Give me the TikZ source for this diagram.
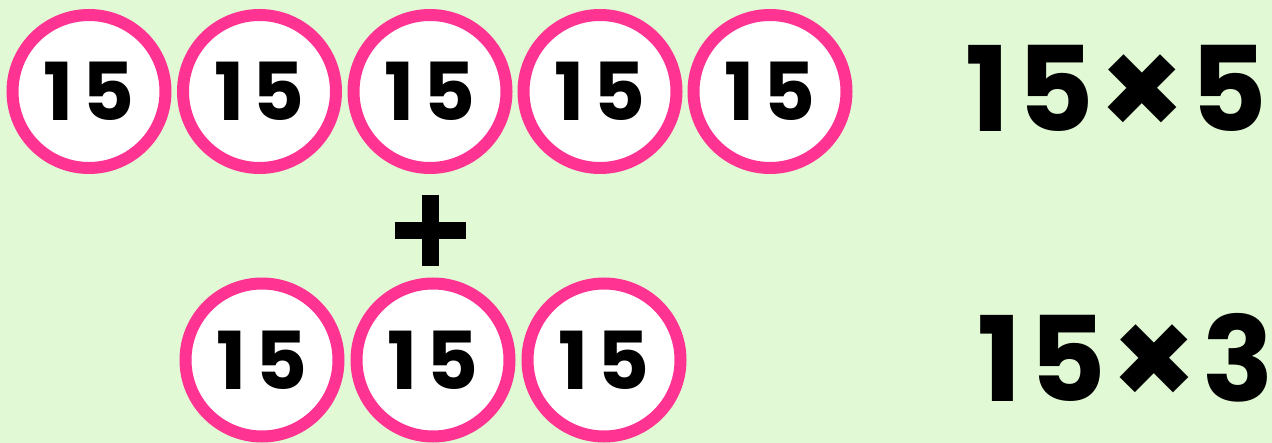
\documentclass[tikz,border=0pt]{standalone}
\usepackage{fontspec}
\setmainfont{Poppins}[BoldFont={* Bold}]
\definecolor{bg}{RGB}{225,250,213}
\definecolor{pinkring}{RGB}{255,51,145}
\newcommand{\gp}[1]{\hspace{#1pt}}
\newcommand{\bigtimes}{{\fontsize{138}{138}\selectfont\raisebox{-6pt}{×}}}
\begin{document}
\begin{tikzpicture}[x=1pt,y=-1pt,
  ball/.style={circle,draw=pinkring,fill=white,line width=12pt,minimum size=153pt,inner sep=0pt,
    font=\fontsize{80}{80}\bfseries\selectfont},
  expr/.style={inner sep=0pt,font=\fontsize{118}{118}\bfseries\selectfont}]
\fill[bg] (0,0) rectangle (1272,443);
\useasboundingbox (0,0) rectangle (1272,443);
\foreach \i/\x in {1/89,2/259.5,3/430,4/600,5/770}
  \node[ball] (t\i) at (\x,91.5) {1\gp{8}5};
\foreach \i/\x in {1/262,2/433,3/604}
  \node[ball] (b\i) at (\x,360) {1\gp{8}5};
\node[inner sep=0pt] (plus) at (430,230.5) {};
\fill (plus.center) ++(-35.5,-8.5) rectangle ++(71,17);
\fill (plus.center) ++(-8.5,-35.5) rectangle ++(17,71);
\node[expr,anchor=base west] (e1) at (965,132) {1\gp{8}5\gp{4}\bigtimes\gp{4}5};
\node[expr,anchor=base west] (e2) at (977,402) {1\gp{8}5\gp{4}\bigtimes\gp{4}3};
\end{tikzpicture}
\end{document}
